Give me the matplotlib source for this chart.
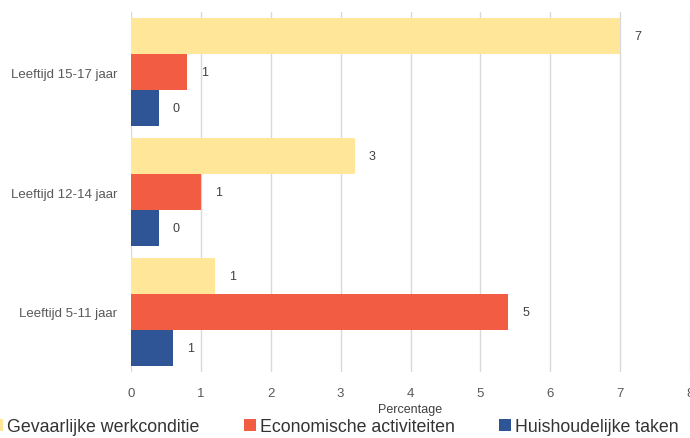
import matplotlib.pyplot as plt
import numpy as np

plt.rcParams["font.family"] = ["Liberation Sans", "DejaVu Sans"]

categories = ["Leeftijd 5-11 jaar", "Leeftijd 12-14 jaar", "Leeftijd 15-17 jaar"]
series_names = ["Gevaarlijke werkconditie", "Economische activiteiten", "Huishoudelijke taken"]
gevaarlijk = [1.2, 3.2, 7.0]
economisch = [5.4, 1.0, 0.8]
huishoudelijk = [0.6, 0.4, 0.4]
colors = ["#FFE699", "#F25C42", "#2F5597"]

fig = plt.figure(figsize=(6.9, 4.39), dpi=100)
ax = fig.add_axes([131 / 690, 1 - 373 / 439, 559 / 690, 360 / 439])

y = np.arange(len(categories))
h = 0.3
offsets = [h, 0, -h]
for vals, name, col, off in zip([gevaarlijk, economisch, huishoudelijk], series_names, colors, offsets):
    bars = ax.barh(y + off, vals, height=h, color=col, label=name)
    for b, v in zip(bars, vals):
        ax.text(v + 0.25, b.get_y() + h / 2, f"{v:.0f}", va="center", ha="center",
                fontsize=9, color="#404040")

ax.set_xlim(0, 8)
ax.set_ylim(-0.5, 2.5)
ax.set_xticks(range(9))
ax.set_yticks(y)
ax.set_yticklabels(categories)
ax.tick_params(axis="y", length=0, labelsize=9.5, colors="#595959", pad=10)
ax.tick_params(axis="x", length=0, labelsize=9.5, colors="#595959", pad=11)
ax.grid(axis="x", color="#D9D9D9", linewidth=1)
ax.set_axisbelow(True)
for s in ax.spines.values():
    s.set_visible(False)
ax.set_xlabel("Percentage", fontsize=9, color="#404040", labelpad=3)

fig.legend(loc="lower center", bbox_to_anchor=(0.485, -0.03), ncol=3, frameon=False,
           fontsize=12.8, handlelength=0.7, handleheight=0.7, handletextpad=0.2,
           columnspacing=2.5, labelcolor="#333333")

fig.savefig("out.png", dpi=100)
